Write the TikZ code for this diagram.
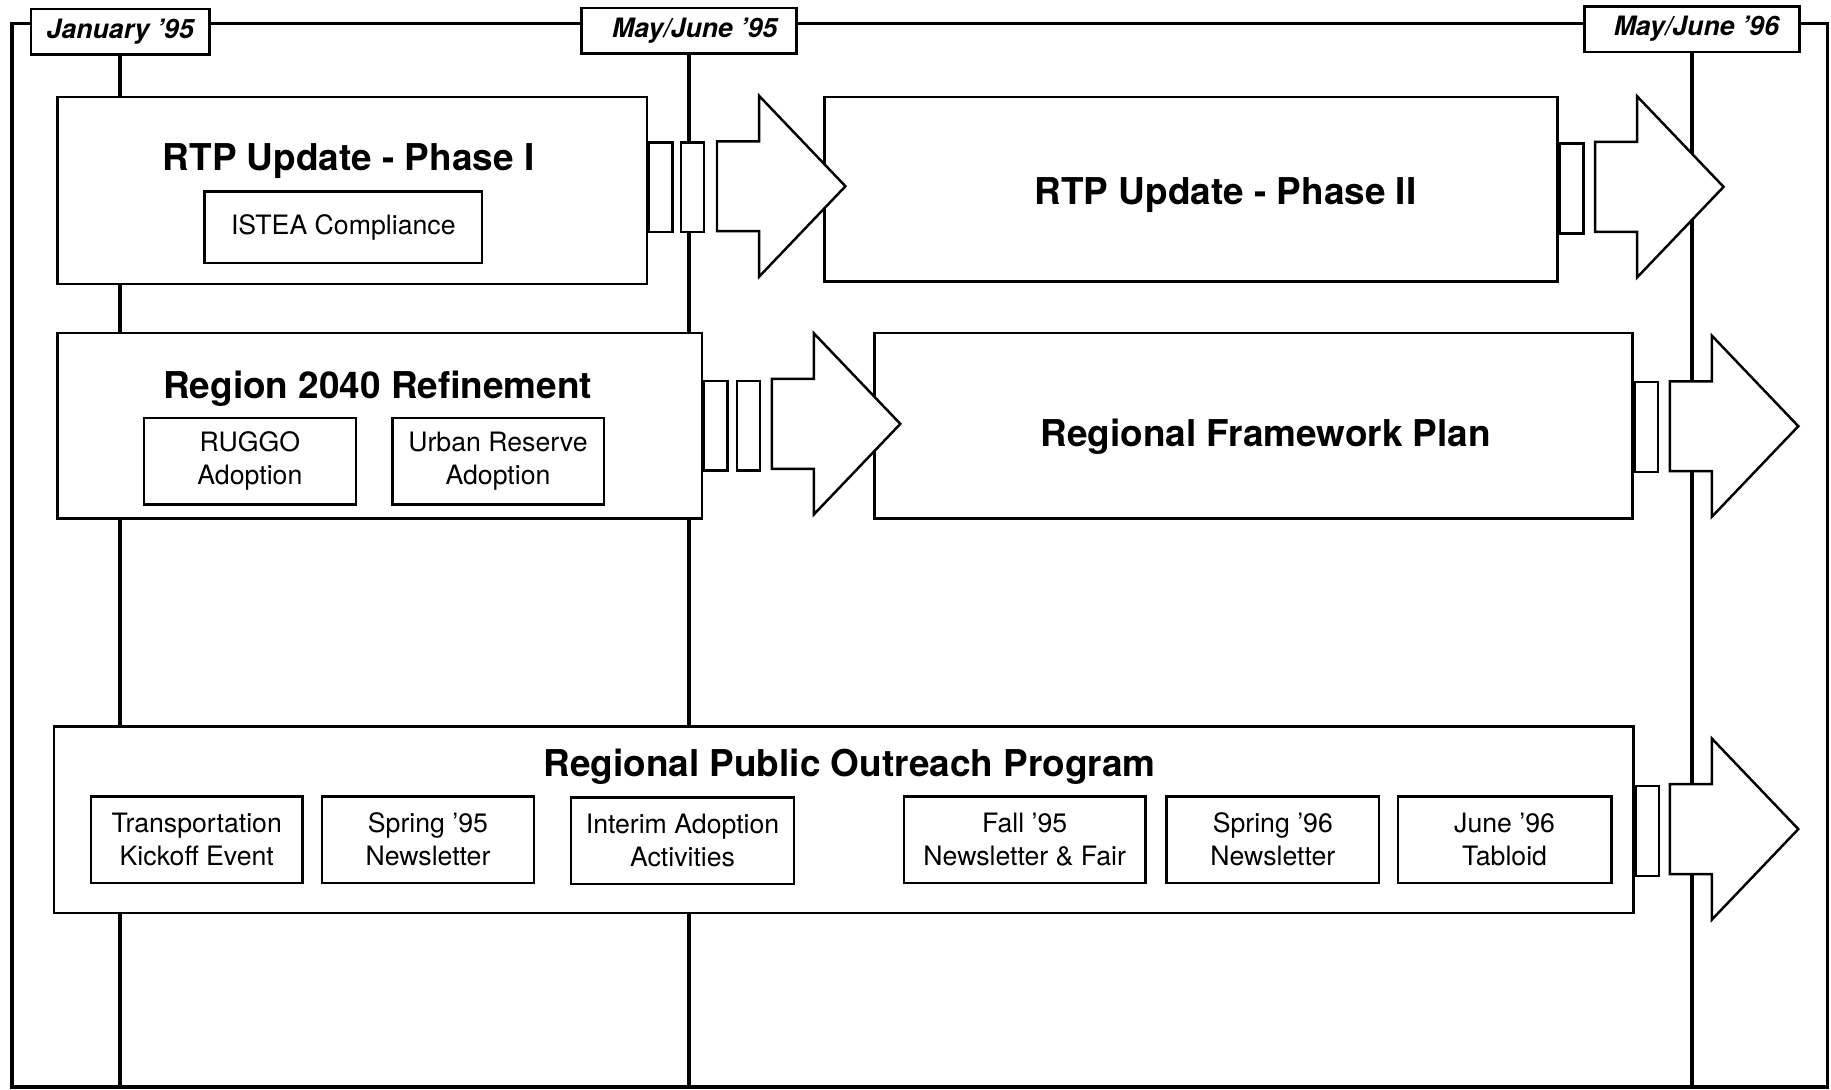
\documentclass[tikz,border=0pt]{standalone}
\usepackage{fontspec}
\setmainfont{TeX Gyre Heros}
\usepackage{tikz}

\begin{document}
\begin{tikzpicture}[
    x=0.02cm, y=-0.02cm,
    datebox/.style={draw, fill=white, line width=1.2pt, inner sep=0pt,
                    minimum height=0.78cm,
                    font=\bfseries\itshape\fontsize{13}{15}\selectfont},
    phasebox/.style={draw, fill=white, line width=1.2pt, inner sep=0pt,
                     anchor=north west},
    heading/.style={inner sep=0pt, font=\bfseries\fontsize{18}{21}\selectfont},
    taskbox/.style={draw, fill=white, line width=1.1pt, inner sep=0pt,
                    align=center, minimum height=1.48cm,
                    font=\fontsize{13}{16}\selectfont},
    linkbox/.style={draw, fill=white, line width=1.1pt, inner sep=0pt,
                    anchor=north west, minimum width=0.4cm, minimum height=1.54cm},
    timeline/.style={line width=1.8pt},
    blockarrow/.style={draw, fill=white, line width=1.2pt, line join=miter}
]
\useasboundingbox (0,0) rectangle (1568,933);

% frame
\draw[timeline] (10,20) rectangle (1565,931);
\coordinate (foot) at (0,931);

% dates
\node[datebox, minimum width=3.06cm] (jan95) at (103,27) {January '95};
\node[datebox, minimum width=3.68cm] (may95) at (590,26.5) {\hspace*{0.2cm}May/June '95};
\node[datebox, minimum width=3.68cm] (may96) at (1449,25) {\hspace*{0.15cm}May/June '96};

\draw[timeline] (jan95.south) -- (jan95.south |- foot);
\draw[timeline] (may95.south) -- (may95.south |- foot);
\draw[timeline] (may96.south) -- (may96.south |- foot);

% RTP
\node[phasebox, minimum width=10.10cm, minimum height=3.20cm] (rtp1) at (48,82) {};
\node[heading] (rtp1title) at (298.5,138) {RTP Update - Phase I};
\node[taskbox, minimum width=4.76cm, minimum height=1.22cm] (istea) at (294,194.5) {\raisebox{-1pt}{ISTEA Compliance}};
\node[phasebox, minimum width=12.56cm, minimum height=3.16cm] (rtp2) at (705,82) {};
\node[heading] (rtp2title) at (1049.5,167) {RTP Update - Phase II};

% Region 2040
\node[phasebox, minimum width=11.04cm, minimum height=3.18cm] (r2040) at (48,284) {};
\node[heading] (r2040title) at (323.5,333) {Region 2040 Refinement};
\node[taskbox, minimum width=3.64cm] (ruggo) at (214,395) {RUGGO\\Adoption};
\node[taskbox, minimum width=3.62cm] (reserve) at (426.5,395) {Urban Reserve\\Adoption};
\node[phasebox, minimum width=12.98cm, minimum height=3.18cm] (rfp) at (748,284) {};
\node[heading] (rfptitle) at (1084,374) {Regional Framework Plan};

% outreach
\node[phasebox, minimum width=27.06cm, minimum height=3.20cm] (rpop) at (45,621) {};
\node[heading] (rpoptitle) at (727.5,657) {Regional Public Outreach Program};
\node[taskbox, minimum width=3.62cm] (kickoff) at (168.5,719) {Transportation\\Kickoff Event};
\node[taskbox, minimum width=3.62cm] (spring95) at (366.5,719) {Spring '95\\Newsletter};
\node[taskbox, minimum width=3.82cm] (interim) at (584.5,720) {Interim Adoption\\Activities};
\node[taskbox, minimum width=4.14cm] (fall95) at (877.5,719) {Fall '95\\Newsletter \& Fair};
\node[taskbox, minimum width=3.64cm] (spring96) at (1090,719) {Spring '96\\Newsletter};
\node[taskbox, minimum width=3.66cm] (tabloid) at (1288.5,719) {June '96\\Tabloid};

% links
\node[linkbox] (link1) at (rtp1.east |- 0,121) {};
\node[linkbox] (link2) at (582,121) {};
\node[linkbox] (link3) at (rtp2.east |- 0,122) {};
\node[linkbox] (link4) at (r2040.east |- 0,325) {};
\node[linkbox] (link5) at (630,325) {};
\node[linkbox] (link6) at (rfp.east |- 0,326) {};
\node[linkbox] (link7) at (rpop.east |- 0,672) {};

\foreach \x/\y in {614/159.5, 1366/160, 661/363, 1430/365, 1430/710}
  \draw[blockarrow] (\x,\y-38.5) -- (\x+36,\y-38.5) -- (\x+36,\y-77.5)
    -- (\x+110,\y) -- (\x+36,\y+77.5) -- (\x+36,\y+38.5) -- (\x,\y+38.5) -- cycle;
\end{tikzpicture}
\end{document}
